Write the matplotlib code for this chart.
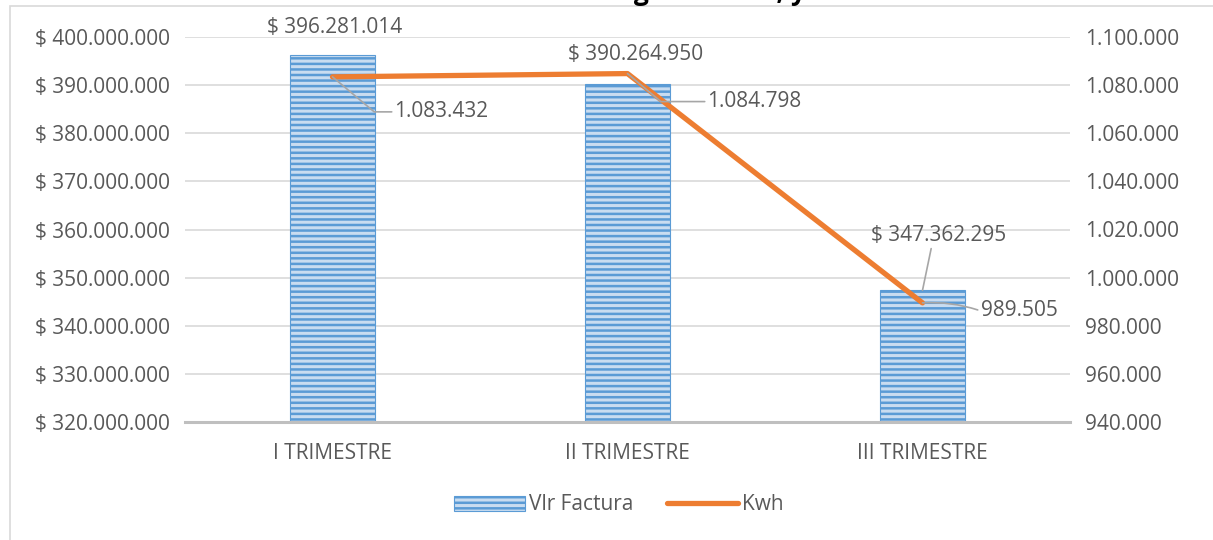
import matplotlib.pyplot as plt
from matplotlib.patches import Rectangle
from matplotlib.lines import Line2D
from matplotlib.ticker import FuncFormatter

plt.rcParams["font.family"] = ["Open Sans", "DejaVu Sans"]
plt.rcParams["hatch.linewidth"] = 1.8

# data
trimestres = ["I TRIMESTRE", "II TRIMESTRE", "III TRIMESTRE"]
vlr_factura = [396281014, 390264950, 347362295]
kwh = [1083432, 1084798, 989505]

TXT = "#595959"
BLUE = "#5b9bd5"
LIGHT = "#c9dcf0"
ORANGE = "#ed7d31"
GRID = "#d9d9d9"
FS = 15


def miles(v):
    return f"{int(round(v)):,}".replace(",", ".")


fig = plt.figure(figsize=(12.13, 5.4), dpi=100)
fig.patches.append(Rectangle((10 / 1213, -0.1), 1.2, (540 - 6) / 540 + 0.1,
                             transform=fig.transFigure, fill=False,
                             edgecolor=GRID, linewidth=1.2))
fig.text(0.505, 1.0 + 8 / 540, "Gráfica N° 2. Consumo de Energía en Kwh, y Vlr Facturado",
         ha="center", va="center", fontsize=19, fontweight="bold", color="black")

ax = fig.add_axes([185 / 1213, 1 - 422 / 540, (1070 - 185) / 1213, (422 - 37) / 540])
ax2 = ax.twinx()

x = range(len(trimestres))
ax.bar(x, vlr_factura, width=0.29, color=LIGHT, edgecolor=BLUE, hatch="---",
       linewidth=0.8, zorder=2, label="Vlr Factura")
ax.set_xlim(-0.5, 2.5)
ax.set_ylim(320000000, 400000000)
ax.set_yticks(range(320000000, 400000001, 10000000))
ax.yaxis.set_major_formatter(FuncFormatter(lambda v, p: "$ " + miles(v)))
ax.set_xticks(list(x))
ax.set_xticklabels(trimestres)
ax.grid(axis="y", color=GRID, linewidth=1.2, zorder=0)
ax.set_axisbelow(True)

ax2.plot(list(x), kwh, color=ORANGE, linewidth=3.8, solid_capstyle="round", zorder=3)
ax2.set_ylim(940000, 1100000)
ax2.set_yticks(range(940000, 1100001, 20000))
ax2.yaxis.set_major_formatter(FuncFormatter(lambda v, p: miles(v)))

for a in (ax, ax2):
    for s in a.spines.values():
        s.set_visible(False)
    a.tick_params(length=0, labelsize=FS, colors=TXT)
ax.spines["bottom"].set_visible(True)
ax.spines["bottom"].set_color("#bfbfbf")
ax.spines["bottom"].set_linewidth(2.2)
ax.tick_params(axis="x", pad=15)
ax.tick_params(axis="y", pad=11)
ax2.tick_params(axis="y", pad=11)

leader = dict(arrowstyle="-", color="#a6a6a6", lw=1.2, shrinkA=0, shrinkB=0)

# bar labels
ax.annotate("$ " + miles(vlr_factura[0]), (0, vlr_factura[0]), xytext=(2, 27),
            textcoords="offset pixels", ha="center", va="center", fontsize=FS, color=TXT,
            annotation_clip=False)
ax.annotate("$ " + miles(vlr_factura[1]), (1, vlr_factura[1]), xytext=(8, 29),
            textcoords="offset pixels", ha="center", va="center", fontsize=FS, color=TXT)
ax.annotate("$ " + miles(vlr_factura[2]), (2, vlr_factura[2]), xytext=(16, 55),
            textcoords="offset pixels", ha="center", va="center", fontsize=FS, color=TXT,
            arrowprops=dict(leader, relpos=(0.45, 0.0)))

# line labels with leader lines
ax2.annotate(miles(kwh[0]), (0, kwh[0]), xytext=(62, -35), textcoords="offset pixels",
             ha="left", va="center", fontsize=FS, color=TXT,
             arrowprops=dict(leader, connectionstyle="angle,angleA=0,angleB=-40,rad=0",
                             relpos=(0, 0.5)))
ax2.annotate(miles(kwh[1]), (1, kwh[1]), xytext=(80, -28), textcoords="offset pixels",
             ha="left", va="center", fontsize=FS, color=TXT,
             arrowprops=dict(leader, connectionstyle="angle,angleA=0,angleB=-40,rad=0",
                             relpos=(0, 0.5)))
ax2.annotate(miles(kwh[2]), (2, kwh[2]), xytext=(58, -8), textcoords="offset pixels",
             ha="left", va="center", fontsize=FS, color=TXT,
             arrowprops=dict(leader, connectionstyle="arc3,rad=0.1", relpos=(0, 0.5)))

handles = [Rectangle((0, 0), 1, 1, facecolor=LIGHT, edgecolor=BLUE, hatch="---", linewidth=0.8),
           Line2D([0], [0], color=ORANGE, linewidth=3.8, solid_capstyle="round")]
fig.legend(handles, ["Vlr Factura", "Kwh"], loc="center", bbox_to_anchor=(0.51, 1 - 505 / 540),
           ncol=2, frameon=False, fontsize=FS, labelcolor=TXT, handlelength=3.4,
           columnspacing=1.6, handletextpad=0.2)

fig.savefig("out.png", dpi=100)
